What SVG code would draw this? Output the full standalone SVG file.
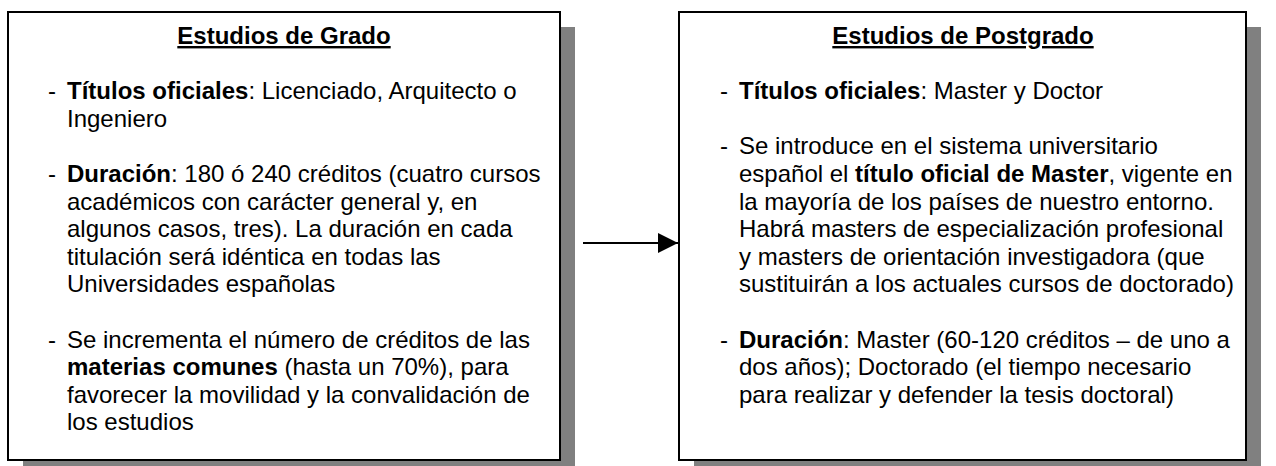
<svg xmlns="http://www.w3.org/2000/svg" width="1276" height="466" viewBox="0 0 1276 466">
<style>
.shadow{fill:#808080;}
.box{fill:#ffffff;stroke:#000000;stroke-width:2;}
text{font-family:"Liberation Sans",Arial,sans-serif;font-size:24px;fill:#000000;}
.title{font-weight:bold;text-anchor:middle;text-decoration:underline;}
.b{font-weight:bold;}
.conn{stroke:#000000;stroke-width:2;fill:none;}
</style>
<defs>
<marker id="arrow" markerUnits="userSpaceOnUse" markerWidth="20" markerHeight="20" refX="20" refY="10" orient="auto">
<path d="M0,0 L20,10 L0,20 Z" fill="#000000"/>
</marker>
</defs>
<g id="grado">
<rect class="shadow" x="23" y="27" width="552" height="448"/>
<rect class="box" x="8" y="12" width="552" height="448"/>
<text class="title" x="284" y="44">Estudios de Grado</text>
<text x="48" y="99">-</text>
<text x="67" y="99"><tspan class="b">Títulos oficiales</tspan>: Licenciado, Arquitecto o</text>
<text x="67" y="127">Ingeniero</text>
<text x="48" y="182">-</text>
<text x="67" y="182"><tspan class="b">Duración</tspan>: 180 ó 240 créditos (cuatro cursos</text>
<text x="67" y="210">académicos con carácter general y, en</text>
<text x="67" y="237">algunos casos, tres). La duración en cada</text>
<text x="67" y="265">titulación será idéntica en todas las</text>
<text x="67" y="292">Universidades españolas</text>
<text x="48" y="348">-</text>
<text x="67" y="348">Se incrementa el número de créditos de las</text>
<text x="67" y="375"><tspan class="b">materias comunes</tspan> (hasta un 70%), para</text>
<text x="67" y="403">favorecer la movilidad y la convalidación de</text>
<text x="67" y="430">los estudios</text>
</g>
<g id="postgrado">
<rect class="shadow" x="694" y="27" width="567" height="448"/>
<rect class="box" x="679" y="12" width="567" height="448"/>
<text class="title" x="963" y="44">Estudios de Postgrado</text>
<text x="720" y="99">-</text>
<text x="739" y="99"><tspan class="b">Títulos oficiales</tspan>: Master y Doctor</text>
<text x="720" y="154">-</text>
<text x="739" y="154">Se introduce en el sistema universitario</text>
<text x="739" y="182">español el <tspan class="b">título oficial de Master</tspan>, vigente en</text>
<text x="739" y="210">la mayoría de los países de nuestro entorno.</text>
<text x="739" y="237">Habrá masters de especialización profesional</text>
<text x="739" y="265">y masters de orientación investigadora (que</text>
<text x="739" y="292">sustituirán a los actuales cursos de doctorado)</text>
<text x="720" y="348">-</text>
<text x="739" y="348"><tspan class="b">Duración</tspan>: Master (60-120 créditos – de uno a</text>
<text x="739" y="375">dos años); Doctorado (el tiempo necesario</text>
<text x="739" y="403">para realizar y defender la tesis doctoral)</text>
</g>
<g id="connectors">
<line class="conn" x1="583" y1="243" x2="678" y2="243" marker-end="url(#arrow)"/>
</g>
</svg>
